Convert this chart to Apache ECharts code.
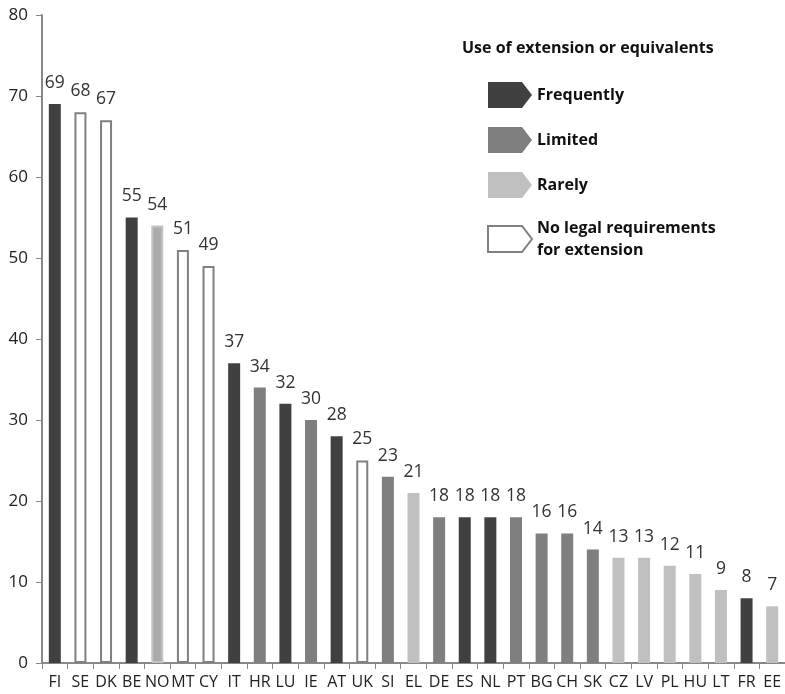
<!DOCTYPE html>
<html><head><meta charset="utf-8">
<script src="https://cdn.jsdelivr.net/npm/echarts@6/dist/echarts.min.js"></script>
<style>html,body{margin:0;padding:0;background:#fff}#c{width:785px;height:694px}</style>
</head><body><div id="c"></div>
<script>
const categories = ['FI','SE','DK','BE','NO','MT','CY','IT','HR','LU','IE','AT','UK','SI','EL','DE','ES','NL','PT','BG','CH','SK','CZ','LV','PL','HU','LT','FR','EE'];
const values = [69,68,67,55,54,51,49,37,34,32,30,28,25,23,21,18,18,18,18,16,16,14,13,13,12,11,9,8,7];
// F=Frequently, L=Limited, R=Rarely, N=No legal requirements
const groups = ['F','N','N','F','R','N','N','F','L','F','L','F','N','L','R','L','F','F','L','L','L','L','R','R','R','R','R','F','R'];
const seriesNames = ['Frequently','Limited','Rarely','No legal requirements\nfor extension'];
const seriesKeys = ['F','L','R','N'];
const tickLabels = [0,10,20,30,40,50,60,70,80];

const styles = {
  F:{color:'#404040', borderColor:'#404040', borderWidth:0},
  L:{color:'#7f7f7f', borderColor:'#7f7f7f', borderWidth:0},
  R:{color:'#c0c0c0', borderColor:'#c0c0c0', borderWidth:0},
  N:{color:'#ffffff', borderColor:'#808080', borderWidth:2}
};
const arrow = 'path://M0,0 L34,0 L44,13 L34,26 L0,26 Z';
const FONT = '"Open Sans", "Noto Sans", sans-serif';

const series = seriesKeys.map((k,si)=>({
  name: seriesNames[si],
  type:'bar',
  stack:'all',
  barWidth:12,
  itemStyle: styles[k],
  label:{show:true, position:'top', distance:12, color:'#333', fontSize:17.5, fontFamily:FONT},
  data: values.map((v,i)=>{
    if (groups[i]!==k) return '-';
    if (categories[i]==='NO') return {value:v, itemStyle:{color:'#ababab', borderColor:'#c4c4c4', borderWidth:2}};
    return v;
  })
}));

const chart = echarts.init(document.getElementById('c'));
chart.setOption({
  animation:false,
  title:{text:'Use of extension or equivalents', left:457, top:35,
    textStyle:{fontSize:16, fontWeight:'bold', color:'#111', fontFamily:FONT}},
  legend:{orient:'vertical', left:482, top:77, itemWidth:44, itemHeight:26, itemGap:19,
    icon: arrow,
    textStyle:{fontSize:16, fontWeight:'bold', color:'#111', fontFamily:FONT, lineHeight:22},
    data: seriesNames.map((n,i)=>({name:n, itemStyle: i===3?{color:'#fff',borderColor:'#808080',borderWidth:2}:undefined}))
  },
  grid:{left:42, right:0, top:15, bottom:31, containLabel:false},
  xAxis:{type:'category', data:categories,
    axisLine:{lineStyle:{color:'#888', width:2}},
    axisTick:{show:true, alignWithLabel:false, length:6, lineStyle:{color:'#888'}},
    axisLabel:{color:'#222', fontSize:16, fontFamily:FONT, margin:11, interval:0}},
  yAxis:{type:'value', min:0, max:80, interval:10,
    axisLine:{show:true, lineStyle:{color:'#888', width:2}},
    axisTick:{show:true, length:6, lineStyle:{color:'#888'}},
    splitLine:{show:false},
    axisLabel:{color:'#222', fontSize:17, fontFamily:FONT, margin:14,
      formatter:(v)=> tickLabels.includes(v)? String(v):''}},
  series
});
</script></body></html>
